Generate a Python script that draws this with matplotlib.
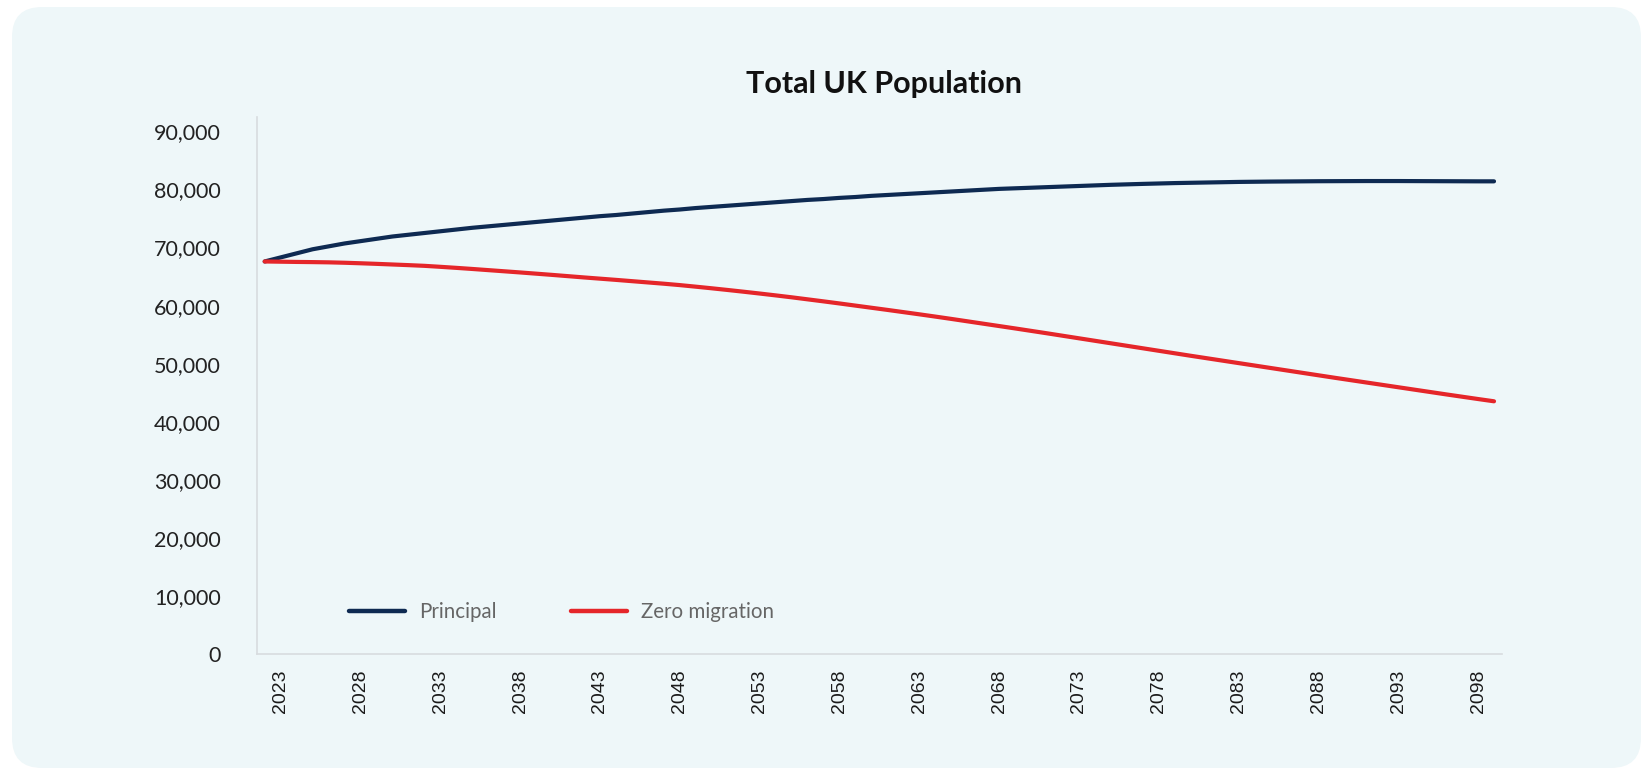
import matplotlib
matplotlib.use("Agg")
import matplotlib.pyplot as plt
from matplotlib.patches import FancyBboxPatch
from matplotlib.ticker import FuncFormatter

years = list(range(2022, 2100))

principal = [
    67600, 68300, 69000, 69700, 70200, 70700, 71100, 71500, 71900, 72200,
    72500, 72800, 73100, 73400, 73650, 73900, 74150, 74400, 74650, 74900,
    75150, 75400, 75600, 75850, 76100, 76350, 76550, 76800, 77000, 77200,
    77400, 77600, 77800, 78000, 78200, 78350, 78550, 78700, 78900, 79050,
    79200, 79350, 79500, 79650, 79800, 79950, 80100, 80200, 80300, 80400,
    80500, 80600, 80700, 80800, 80880, 80960, 81030, 81100, 81150, 81200,
    81250, 81300, 81330, 81360, 81380, 81400, 81420, 81430, 81440, 81450,
    81450, 81450, 81440, 81430, 81420, 81410, 81400, 81400,
]

zero_migration = [
    67600, 67560, 67520, 67490, 67450, 67380, 67290, 67190, 67080, 66970,
    66850, 66680, 66500, 66310, 66110, 65910, 65710, 65500, 65290, 65070,
    64850, 64640, 64430, 64210, 63990, 63770, 63530, 63260, 62980, 62690,
    62390, 62080, 61760, 61430, 61080, 60730, 60370, 60000, 59630, 59260,
    58880, 58500, 58110, 57710, 57300, 56890, 56480, 56070, 55650, 55230,
    54800, 54370, 53940, 53510, 53080, 52650, 52220, 51790, 51360, 50940,
    50520, 50100, 49680, 49260, 48840, 48420, 48000, 47580, 47170, 46760,
    46350, 45940, 45530, 45120, 44710, 44310, 43910, 43520,
]

series_names = ["Principal", "Zero migration"]
series_colors = ["#0E2A52", "#E5262A"]
xtick_years = list(range(2023, 2099, 5))
ytick_values = list(range(0, 90001, 10000))
title = "Total UK Population"

W, H, DPI = 1647, 771, 100
fig = plt.figure(figsize=(W / DPI, H / DPI), dpi=DPI, facecolor="white")

# rounded panel background (display pixel coordinates)
panel = FancyBboxPatch((12, 3), 1629, 761,
                       boxstyle="round,pad=0,rounding_size=30",
                       transform=None, facecolor="#EEF7F9",
                       edgecolor="none", zorder=-10)
fig.patches.append(panel)

ax = fig.add_axes([256.7 / W, 1 - 654 / H, (1502 - 256.7) / W, (654 - 117) / H])
ax.set_facecolor("none")
ax.set_zorder(5)

for vals, name, col in zip([principal, zero_migration], series_names, series_colors):
    ax.plot(years, vals, color=col, lw=3, label=name,
            solid_capstyle="round", solid_joinstyle="round")

ax.set_xlim(2021.5, 2099.5)
ax.set_ylim(0, 92480)
ax.set_yticks(ytick_values)
ax.yaxis.set_major_formatter(FuncFormatter(lambda v, p: f"{int(v):,}"))
ax.set_xticks(xtick_years)
ax.set_xticklabels([str(y) for y in xtick_years], rotation=90,
                   fontfamily="Liberation Sans", fontsize=14, color="#1a1a1a")
for lab in ax.get_yticklabels():
    lab.set_fontfamily("Lato")
    lab.set_fontsize(15.5)
    lab.set_color("#222222")
ax.tick_params(axis="y", length=0, pad=26)
ax.tick_params(axis="x", length=0, pad=11)

for s in ["top", "right"]:
    ax.spines[s].set_visible(False)
for s in ["left", "bottom"]:
    ax.spines[s].set_color("#D8DCDF")
    ax.spines[s].set_linewidth(1.2)

fig.text(884 / W, 1 - 84 / H, title, ha="center", va="center",
         fontfamily="Lato", fontweight="bold", fontsize=22, color="#111111")

leg = ax.legend(loc="center left", bbox_to_anchor=((349 - 256.7) / 1245.3, (654 - 612) / 537),
                ncol=2, frameon=False, borderpad=0, borderaxespad=0,
                handlelength=2.7, handletextpad=0.7, columnspacing=3.65,
                prop={"family": "Lato", "size": 14.8})
for t in leg.get_texts():
    t.set_color("#666666")
for h in leg.get_lines():
    h.set_linewidth(3.2)
    h.set_solid_capstyle("round")

fig.savefig("out.png", dpi=DPI, facecolor="white")
